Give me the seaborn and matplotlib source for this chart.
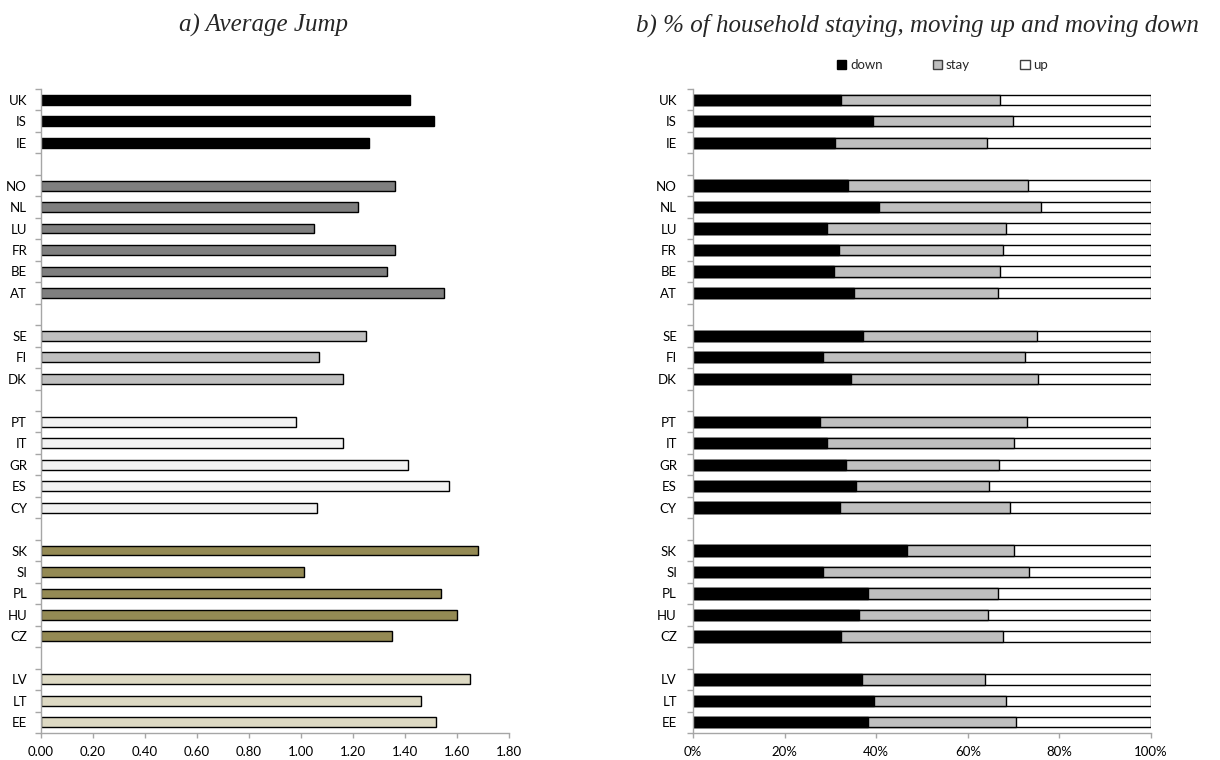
import pandas as pd
import matplotlib.pyplot as plt
import seaborn as sns
from matplotlib.patches import Patch
from matplotlib.ticker import FixedLocator

# country blocks, top to bottom
groups = [
    ['UK', 'IS', 'IE'],
    ['NO', 'NL', 'LU', 'FR', 'BE', 'AT'],
    ['SE', 'FI', 'DK'],
    ['PT', 'IT', 'GR', 'ES', 'CY'],
    ['SK', 'SI', 'PL', 'HU', 'CZ'],
    ['LV', 'LT', 'EE'],
]
group_colors = ['#000000', '#7F7F7F', '#BFBFBF', '#F2F2F2', '#948A54', '#DDD9C3']

countries = [c for g in groups for c in g]

# a) average jump
avg_jump = [1.42, 1.51, 1.26,
            1.36, 1.22, 1.05, 1.36, 1.33, 1.55,
            1.25, 1.07, 1.16,
            0.98, 1.16, 1.41, 1.57, 1.06,
            1.68, 1.01, 1.54, 1.60, 1.35,
            1.65, 1.46, 1.52]

# b) shares in % (up is the rest)
share_down = [32.4, 39.3, 31.1,
              33.9, 40.6, 29.3, 31.9, 30.8, 35.1,
              37.2, 28.4, 34.5,
              27.7, 29.2, 33.4, 35.6, 32.2,
              46.8, 28.4, 38.3, 36.2, 32.4,
              36.9, 39.6, 38.3]
share_stay = [34.7, 30.6, 33.1,
              39.3, 35.5, 39.1, 35.7, 36.3, 31.5,
              37.9, 44.0, 40.8,
              45.3, 40.8, 33.4, 29.0, 37.0,
              23.2, 45.0, 28.3, 28.3, 35.2,
              26.9, 28.8, 32.2]
share_up = [100 - d - s for d, s in zip(share_down, share_stay)]

# category order with empty slots between blocks
order = []
for i, g in enumerate(groups):
    order += g
    if i < len(groups) - 1:
        order.append('gap%d' % i)
tick_labels = ['' if o.startswith('gap') else o for o in order]

df = pd.DataFrame({
    'country': countries,
    'group': [f'g{i}' for i, g in enumerate(groups) for _ in g],
    'jump': avg_jump,
    'down': share_down,
    'stay': share_stay,
    'up': share_up,
})
df['cum_stay'] = df['down'] + df['stay']
df['cum_up'] = df['cum_stay'] + df['up']
palette = {f'g{i}': c for i, c in enumerate(group_colors)}

sns.set_theme(style='white')
plt.rcParams['font.family'] = ['Lato', 'DejaVu Sans']

fig = plt.figure(figsize=(12.2, 7.6), dpi=100)
ax1 = fig.add_axes([0.0336, 0.0355, 0.3836, 0.8474])
ax2 = fig.add_axes([0.568, 0.0355, 0.3754, 0.8474])

axis_grey = '#A6A6A6'

# a) plain horizontal bars coloured by block
sns.barplot(ax=ax1, data=df, x='jump', y='country', order=order,
            hue='group', palette=palette, dodge=False, legend=False,
            width=0.46, saturation=1, edgecolor='black', linewidth=1)
ax1.set_xlim(0, 1.8)
ax1.set_xticks([i * 0.2 for i in range(10)])
ax1.set_xticklabels([f'{i * 0.2:.2f}' for i in range(10)])

# b) stacked bars: draw cumulative totals back to front
for col, colr in [('cum_up', 'white'), ('cum_stay', '#BFBFBF'), ('down', 'black')]:
    sns.barplot(ax=ax2, data=df, x=col, y='country', order=order,
                color=colr, width=0.48, saturation=1,
                edgecolor='black', linewidth=1)
ax2.set_xlim(0, 100)
ax2.set_xticks(range(0, 101, 20))
ax2.set_xticklabels([f'{v}%' for v in range(0, 101, 20)])

for ax, ypad in [(ax1, 6), (ax2, 7.5)]:
    ax.set_xlabel('')
    ax.set_ylabel('')
    ax.set_yticks(range(len(order)))
    ax.set_yticklabels(tick_labels)
    ax.yaxis.set_minor_locator(FixedLocator([i - 0.5 for i in range(len(order) + 1)]))
    ax.tick_params(axis='y', which='major', length=0, pad=ypad + 4, labelsize=9.5, labelcolor='black')
    ax.tick_params(axis='y', which='minor', left=True, length=4.5, width=1, color=axis_grey)
    ax.tick_params(axis='x', which='major', bottom=True, length=3.5, width=1, color=axis_grey,
                   pad=6, labelsize=9.5, labelcolor='black')
    sns.despine(ax=ax)
    for side in ['left', 'bottom']:
        ax.spines[side].set_color(axis_grey)
        ax.spines[side].set_linewidth(1)

ax2.legend(handles=[Patch(facecolor='black', edgecolor='black', label='down'),
                    Patch(facecolor='#BFBFBF', edgecolor='#404040', label='stay'),
                    Patch(facecolor='white', edgecolor='#404040', label='up')],
           loc='center', bbox_to_anchor=(0.545, 1.037), ncol=3, frameon=False,
           fontsize=9.5, handlelength=0.7, handleheight=0.7, handletextpad=0.3,
           columnspacing=3.8)

title_font = dict(family='Liberation Serif', style='italic', fontsize=18, ha='center', va='center')
fig.text(0.2156, 0.967, 'a) Average Jump', **title_font)
fig.text(0.7516, 0.967, 'b) % of household staying, moving up and moving down', **title_font)

fig.savefig('out.png', dpi=100)
